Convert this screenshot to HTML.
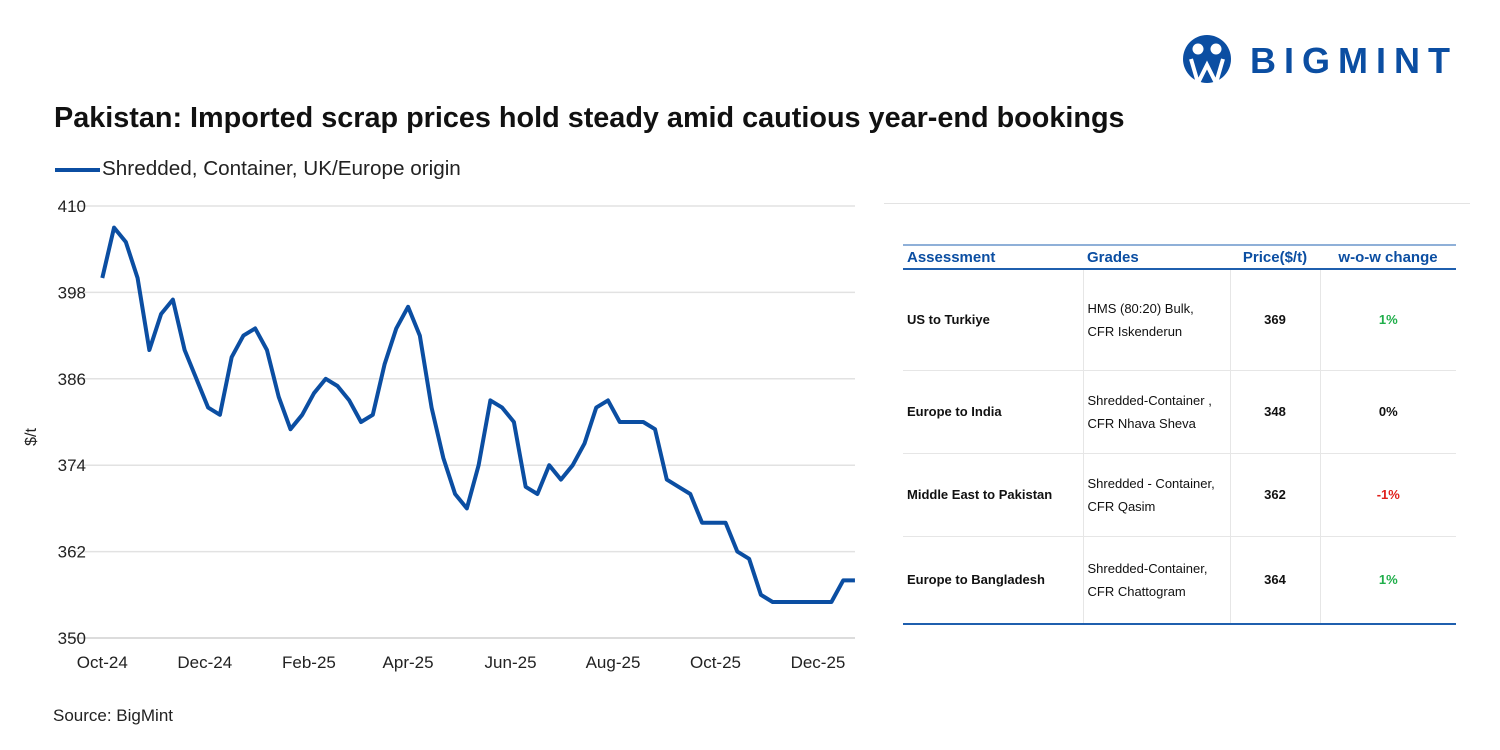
<!DOCTYPE html>
<html><head><meta charset="utf-8"><style>
body{margin:0;background:#fff;font-family:"Liberation Sans",Arial,sans-serif;}
#wrap{position:relative;width:1500px;height:750px;overflow:hidden;}
.t{position:absolute;white-space:nowrap;}
table{position:absolute;left:903px;top:244px;width:553px;border-collapse:collapse;font-size:13px;}
th{color:#0b4ea2;font-weight:bold;font-size:15px;height:22px;text-align:left;padding:0 4px;border-top:2px solid #8fb0d8;border-bottom:2px solid #1f5fae;}
td{padding:0 4px;border-bottom:1px solid #e6e6e6;border-left:1px solid #e6e6e6;color:#111;line-height:23px;}
td:first-child{border-left:none;font-weight:bold;}
tr:last-child td{border-bottom:2px solid #1f5fae;}
.c{text-align:center;font-weight:bold;}
</style></head><body><div id="wrap">
<svg width="1500" height="750" style="position:absolute;left:0;top:0" id="svg"></svg>
<div class="t" style="left:54px;top:102px;font-size:28.8px;font-weight:bold;color:#111;">Pakistan: Imported scrap prices hold steady amid cautious year-end bookings</div>
<div class="t" style="left:55px;top:157px;font-size:20.7px;color:#222;"><span style="display:inline-block;width:45px;height:4px;background:#0b4ea2;vertical-align:middle;margin-right:2px;"></span>Shredded, Container, UK/Europe origin</div>
<div class="t" style="left:53px;top:706px;font-size:17px;color:#222;">Source: BigMint</div>
<div class="t" style="left:1180px;top:35px;">
<svg width="54" height="48"><circle cx="27" cy="24" r="24" fill="#0b4ea2"/><circle cx="18" cy="14" r="5.5" fill="#fff"/><circle cx="36" cy="14" r="5.5" fill="#fff"/><path d="M11 24 L18 48 L27 30 L36 48 L43 24" stroke="#fff" stroke-width="4" fill="none"/></svg>
<span style="position:absolute;left:70px;top:5px;font-size:36px;font-weight:bold;letter-spacing:8px;color:#0b4ea2;">BIGMINT</span></div>
<div style="position:absolute;left:884px;top:203px;width:586px;height:1px;background:#e3e3e3"></div>
<table>
<tr><th style="width:172px">Assessment</th><th style="width:139px">Grades</th><th style="width:82px;text-align:center">Price($/t)</th><th style="text-align:center">w-o-w change</th></tr>
<tr style="height:101px"><td>US to Turkiye</td><td>HMS (80:20) Bulk,<br>CFR Iskenderun</td><td class="c">369</td><td class="c" style="color:#1fae4a">1%</td></tr>
<tr style="height:83px"><td>Europe to India</td><td>Shredded-Container ,<br>CFR Nhava Sheva</td><td class="c">348</td><td class="c">0%</td></tr>
<tr style="height:83px"><td>Middle East to Pakistan</td><td>Shredded - Container,<br>CFR Qasim</td><td class="c">362</td><td class="c" style="color:#e0201b">-1%</td></tr>
<tr style="height:88px"><td>Europe to Bangladesh</td><td>Shredded-Container,<br>CFR Chattogram</td><td class="c">364</td><td class="c" style="color:#1fae4a">1%</td></tr>
</table>
</div>
<script>
const values=[400,407,405,400,390,395,397,390,386,382,381,389,392,393,390,383.5,379,381,384,386,385,383,380,381,388,393,396,392,382,375,370,368,374,383,382,380,371,370,374,372,374,377,382,383,380,380,380,379,372,371,370,366,366,366,362,361,356,355,355,355,355,355,355,358,358];
const yTicks=[350,362,374,386,398,410];
const xTickLabels=["Oct-24","Dec-24","Feb-25","Apr-25","Jun-25","Aug-25","Oct-25","Dec-25"];
const xTickDates=["2024-10-01","2024-12-01","2025-02-01","2025-04-01","2025-06-01","2025-08-01","2025-10-01","2025-12-01"];
const startDate="2024-10-01";
const NS="http://www.w3.org/2000/svg",svg=document.getElementById('svg');
const x0=102.3,step=11.76;
const xIdx=i=>x0+i*step;
const xDate=d=>xIdx((new Date(d)-new Date(startDate))/864e5/7);
const y=v=>638-(v-350)*7.2;
function mk(t,a){const e=document.createElementNS(NS,t);for(const k in a)e.setAttribute(k,a[k]);svg.appendChild(e);return e;}
yTicks.forEach(v=>{
const l=mk('line',{x1:70,x2:855,y1:y(v),y2:y(v),stroke:v==350?'#d0d0d0':'#e2e2e2','stroke-width':1.5});


const t=mk('text',{x:86,y:y(v)+6,'text-anchor':'end','font-size':17,fill:'#222','font-family':'Liberation Sans'});t.textContent=v;


});
xTickLabels.forEach((s,i)=>{
const t=mk('text',{x:xDate(xTickDates[i]),y:668,'text-anchor':'middle','font-size':17,fill:'#222','font-family':'Liberation Sans'});t.textContent=s;


});
const yt=mk('text',{x:0,y:0,transform:'translate(36,437) rotate(-90)','text-anchor':'middle','font-size':16,fill:'#222','font-family':'Liberation Sans'});yt.textContent='$/t';


const p=mk('polyline',{points:values.map((v,i)=>xIdx(i)+','+y(v)).join(' '),fill:'none',stroke:'#0b4ea2','stroke-width':4,'stroke-linejoin':'round'});


</script></body></html>
